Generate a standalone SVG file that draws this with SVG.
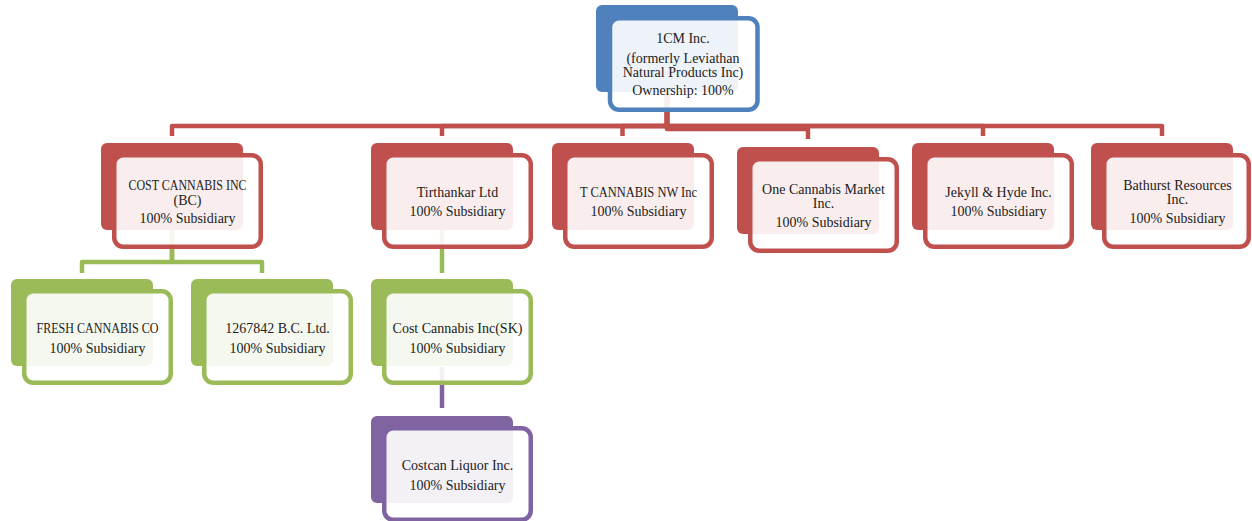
<svg xmlns="http://www.w3.org/2000/svg" width="1252" height="521" viewBox="0 0 1252 521">
<style>
.bg{stroke:none}
.fr{fill:#fff;fill-opacity:0.9;stroke-width:4.5}
.red .bg{fill:#C0504D}.red .fr{stroke:#C0504D}
.blue .bg{fill:#4F81BD}.blue .fr{stroke:#4F81BD}
.green .bg{fill:#9BBB59}.green .fr{stroke:#9BBB59}
.purple .bg{fill:#8064A2}.purple .fr{stroke:#8064A2}
text{font-family:"Liberation Serif","Times New Roman",serif;font-size:14px;fill:#222;text-anchor:middle}
.c{fill:none;stroke-width:4.5;stroke-linejoin:round}
</style>
<g id="connectors">
<path class="c" stroke="#C0504D" d="M667,92 V126 H172 V136"/>
<path class="c" stroke="#C0504D" d="M667,92 V126 H442 V136"/>
<path class="c" stroke="#C0504D" d="M667,92 V126 H622.5 V136"/>
<path class="c" stroke="#C0504D" d="M667,92 V126 H983 V136"/>
<path class="c" stroke="#C0504D" d="M667,92 V126 H1162 V136"/>
<path class="c" stroke="#C0504D" d="M667,92 V129 H808 V139"/>
<path class="c" stroke="#9BBB59" d="M172,230 V262 H82 V273"/>
<path class="c" stroke="#9BBB59" d="M172,230 V262 H262 V273"/>
<path class="c" stroke="#9BBB59" d="M442,230 V273"/>
<path class="c" stroke="#8064A2" d="M442,367 V408"/>
</g>
<g id="node-1cm" class="blue" transform="translate(596,5)">
<rect class="bg" x="0" y="0" width="142" height="87" rx="6"/>
<rect class="fr" x="14" y="13.25" width="147.5" height="91.5" rx="9"/>
<text x="87" y="38">1CM Inc.</text>
<text x="87" y="58">(formerly Leviathan</text>
<text x="87" y="71.5">Natural Products Inc)</text>
<text x="87" y="90">Ownership: 100%</text>
</g>
<g id="node-cost-bc" class="red" transform="translate(101,143)">
<rect class="bg" x="0" y="0" width="142" height="87" rx="6"/>
<rect class="fr" x="13.25" y="12.25" width="146.5" height="91.5" rx="9"/>
<text x="86.5" y="47" textLength="118" lengthAdjust="spacingAndGlyphs">COST CANNABIS INC</text>
<text x="86.5" y="61.5">(BC)</text>
<text x="86.5" y="79.5">100% Subsidiary</text>
</g>
<g id="node-tirthankar" class="red" transform="translate(371,143)">
<rect class="bg" x="0" y="0" width="142" height="87" rx="6"/>
<rect class="fr" x="13.25" y="12.25" width="146.5" height="91.5" rx="9"/>
<text x="86.5" y="54">Tirthankar Ltd</text>
<text x="86.5" y="73">100% Subsidiary</text>
</g>
<g id="node-tcannabis" class="red" transform="translate(552,143)">
<rect class="bg" x="0" y="0" width="142" height="87" rx="6"/>
<rect class="fr" x="13.25" y="12.25" width="146.5" height="91.5" rx="9"/>
<text x="86.5" y="54" textLength="117" lengthAdjust="spacingAndGlyphs">T CANNABIS NW Inc</text>
<text x="86.5" y="73">100% Subsidiary</text>
</g>
<g id="node-onecannabis" class="red" transform="translate(737,147)">
<rect class="bg" x="0" y="0" width="142" height="87" rx="6"/>
<rect class="fr" x="13.25" y="12.25" width="146.5" height="91.5" rx="9"/>
<text x="86.5" y="47">One Cannabis Market</text>
<text x="86.5" y="60.5">Inc.</text>
<text x="86.5" y="79.5">100% Subsidiary</text>
</g>
<g id="node-jekyll" class="red" transform="translate(912,143)">
<rect class="bg" x="0" y="0" width="142" height="87" rx="6"/>
<rect class="fr" x="13.25" y="12.25" width="146.5" height="91.5" rx="9"/>
<text x="86.5" y="54">Jekyll &amp; Hyde Inc.</text>
<text x="86.5" y="73">100% Subsidiary</text>
</g>
<g id="node-bathurst" class="red" transform="translate(1091,143)">
<rect class="bg" x="0" y="0" width="142" height="87" rx="6"/>
<rect class="fr" x="13.25" y="12.25" width="144.5" height="91.5" rx="9"/>
<text x="86.5" y="47">Bathurst Resources</text>
<text x="86.5" y="61">Inc.</text>
<text x="86.5" y="80">100% Subsidiary</text>
</g>
<g id="node-fresh" class="green" transform="translate(11,279)">
<rect class="bg" x="0" y="0" width="142" height="87" rx="6"/>
<rect class="fr" x="13.25" y="12.25" width="146.5" height="91.5" rx="9"/>
<text x="86.5" y="54" textLength="122" lengthAdjust="spacingAndGlyphs">FRESH CANNABIS CO</text>
<text x="86.5" y="73.5">100% Subsidiary</text>
</g>
<g id="node-1267842" class="green" transform="translate(191,279)">
<rect class="bg" x="0" y="0" width="142" height="87" rx="6"/>
<rect class="fr" x="13.25" y="12.25" width="146.5" height="91.5" rx="9"/>
<text x="86.5" y="54">1267842 B.C. Ltd.</text>
<text x="86.5" y="73.5">100% Subsidiary</text>
</g>
<g id="node-cost-sk" class="green" transform="translate(371,279)">
<rect class="bg" x="0" y="0" width="142" height="87" rx="6"/>
<rect class="fr" x="13.25" y="12.25" width="146.5" height="91.5" rx="9"/>
<text x="86.5" y="54">Cost Cannabis Inc(SK)</text>
<text x="86.5" y="73.5">100% Subsidiary</text>
</g>
<g id="node-costcan" class="purple" transform="translate(371,416)">
<rect class="bg" x="0" y="0" width="142" height="87" rx="6"/>
<rect class="fr" x="13.25" y="12.25" width="146.5" height="91.5" rx="9"/>
<text x="86.5" y="54">Costcan Liquor Inc.</text>
<text x="86.5" y="73.5">100% Subsidiary</text>
</g>
</svg>
